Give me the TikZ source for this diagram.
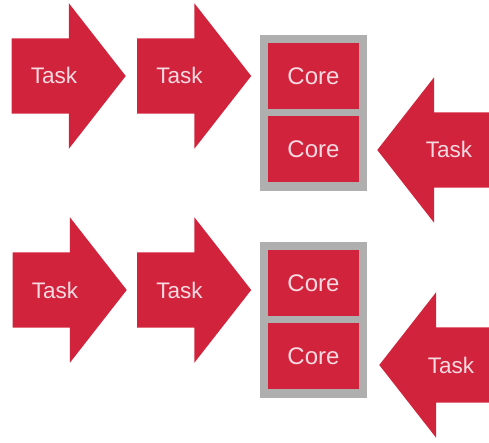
\documentclass[tikz,border=0pt]{standalone}
\usepackage{fontspec}
\setmainfont{Liberation Sans}
\usetikzlibrary{shapes.arrows, positioning, fit, backgrounds}
\definecolor{vermelho}{RGB}{210, 35, 60}
\definecolor{cinza}{RGB}{175, 175, 175}
\definecolor{rosado}{RGB}{248, 218, 226}

\begin{document}
\begin{tikzpicture}[
    x=1pt, y=-1pt,
    tarefa/.style={
        single arrow,
        fill=vermelho,
        text=rosado,
        font=\fontsize{22.5}{22.5}\selectfont,
        text height=16pt,
        text depth=0pt,
        inner ysep=29.5pt,
        inner xsep=4pt,
        minimum height=114pt,
        single arrow head extend=35pt,
        single arrow tip angle=104
    },
    voltar/.style={
        tarefa,
        shape border rotate=180
    },
    nucleo/.style={
        fill=vermelho,
        text=rosado,
        font=\fontsize{24}{24}\selectfont,
        minimum width=91pt,
        minimum height=66pt
    },
    moldura/.style={
        fill=cinza,
        inner sep=8pt
    }
]

\useasboundingbox (0,0) rectangle (489,443);

% linha de cima
\node[tarefa] (ta1) at (54,76) {Task};
\node[tarefa, right=11pt of ta1] (ta2) {Task};
\node[nucleo] (na1) at (313.5,76) {Core};
\node[nucleo, below=7pt of na1] (na2) {Core};
\node[voltar] (ta3) at (449,150) {Task};

% linha de baixo
\node[tarefa] (tb1) at (55,290) {Task};
\node[tarefa, right=10pt of tb1] (tb2) {Task};
\node[nucleo] (nb1) at (313.5,283) {Core};
\node[nucleo, below=7pt of nb1] (nb2) {Core};
\node[voltar] (tb3) at (451,365) {Task};

\begin{scope}[on background layer]
    \node[moldura, fit=(na1)(na2)] (ma) {};
    \node[moldura, fit=(nb1)(nb2)] (mb) {};
\end{scope}

\end{tikzpicture}
\end{document}
